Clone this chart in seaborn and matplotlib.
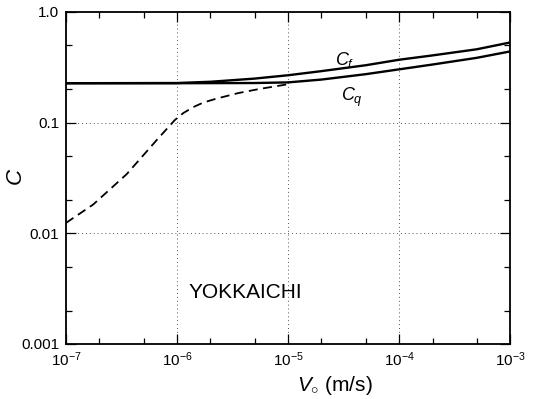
import matplotlib
matplotlib.use("Agg")
import matplotlib.pyplot as plt
import matplotlib.ticker as mticker
import numpy as np
import pandas as pd
import seaborn as sns

# Data
cf_v = [1e-7, 1e-6, 2e-6, 5e-6, 1e-5, 2e-5, 5e-5, 1e-4, 2e-4, 5e-4, 1e-3]
cf_c = [0.227, 0.228, 0.234, 0.250, 0.268, 0.292, 0.330, 0.370, 0.405, 0.460, 0.530]

cq_v = [1e-7, 1e-6, 5e-6, 1e-5, 2e-5, 5e-5, 1e-4, 2e-4, 5e-4, 1e-3]
cq_c = [0.227, 0.227, 0.228, 0.231, 0.245, 0.274, 0.303, 0.335, 0.385, 0.440]

dash_v = [1e-7, 1.76e-7, 3.52e-7, 6.6e-7, 9.6e-7, 1.14e-6, 1.4e-6, 1.73e-6,
          2.28e-6, 3.0e-6, 3.57e-6, 5.6e-6, 1.05e-5]
dash_c = [0.0124, 0.0182, 0.0342, 0.0700, 0.106, 0.122, 0.138, 0.152,
          0.165, 0.177, 0.185, 0.202, 0.224]

xticks = [1e-7, 1e-6, 1e-5, 1e-4, 1e-3]
xticklabels = [r"$10^{-7}$", r"$10^{-6}$", r"$10^{-5}$", r"$10^{-4}$", r"$10^{-3}$"]
yticks = [0.001, 0.01, 0.1, 1.0]
yticklabels = ["0.001", "0.01", "0.1", "1.0"]

sns.set_style("ticks")
plt.rcParams['font.family'] = ['Liberation Sans', 'DejaVu Sans']
plt.rcParams['mathtext.fontset'] = 'custom'
plt.rcParams['mathtext.rm'] = 'Liberation Sans'
plt.rcParams['mathtext.it'] = 'Liberation Sans:italic'
plt.rcParams['text.color'] = 'black'
plt.rcParams['axes.labelcolor'] = 'black'
plt.rcParams['xtick.color'] = 'black'
plt.rcParams['ytick.color'] = 'black'

fig = plt.figure(figsize=(5.45, 3.99), dpi=100)
ax = fig.add_axes([0.121, 0.138, 0.815, 0.832])

df_f = pd.DataFrame({"V": cf_v, "C": cf_c})
df_q = pd.DataFrame({"V": cq_v, "C": cq_c})
df_d = pd.DataFrame({"V": dash_v, "C": dash_c})

sns.lineplot(data=df_f, x="V", y="C", ax=ax, color="black", lw=1.7)
sns.lineplot(data=df_q, x="V", y="C", ax=ax, color="black", lw=1.7)
sns.lineplot(data=df_d, x="V", y="C", ax=ax, color="black", lw=1.3,
             linestyle=(0, (5, 3)))

ax.set_xscale("log")
ax.set_yscale("log")
ax.set_xlim(1e-7, 1e-3)
ax.set_ylim(1e-3, 1.0)

ax.set_xticks(xticks)
ax.set_xticklabels(xticklabels)
ax.set_yticks(yticks)
ax.set_yticklabels(yticklabels)
ax.xaxis.set_minor_locator(mticker.LogLocator(base=10, subs=[2, 5]))
ax.yaxis.set_minor_locator(mticker.LogLocator(base=10, subs=[2, 5]))
ax.xaxis.set_minor_formatter(mticker.NullFormatter())
ax.yaxis.set_minor_formatter(mticker.NullFormatter())

ax.tick_params(which="both", direction="in", top=True, right=True,
               color="black", width=0.9)
ax.tick_params(which="major", length=7, labelsize=11, pad=5)
ax.tick_params(which="minor", length=4)

for s in ax.spines.values():
    s.set_color("black")
    s.set_linewidth(1.3)

ax.grid(True, which="major", color="#555555", linestyle=(0, (1, 3)), lw=0.7)

ax.set_xlabel(r"$V_{\circ}$ (m/s)", fontsize=15)
ax.xaxis.set_label_coords(0.606, -0.092)
ax.set_ylabel("C", fontsize=16, fontstyle="italic")
ax.yaxis.set_label_coords(-0.090, 0.506)

ax.text(4.1e-6, 0.00294, "YOKKAICHI", fontsize=15, ha="center", va="center")
ax.text(3.27e-5, 0.366, r"$C_f$", fontsize=13, ha="center", va="center")
ax.text(3.77e-5, 0.169, r"$C_q$", fontsize=13, ha="center", va="center")

fig.savefig("out.png", dpi=100, facecolor="white")
